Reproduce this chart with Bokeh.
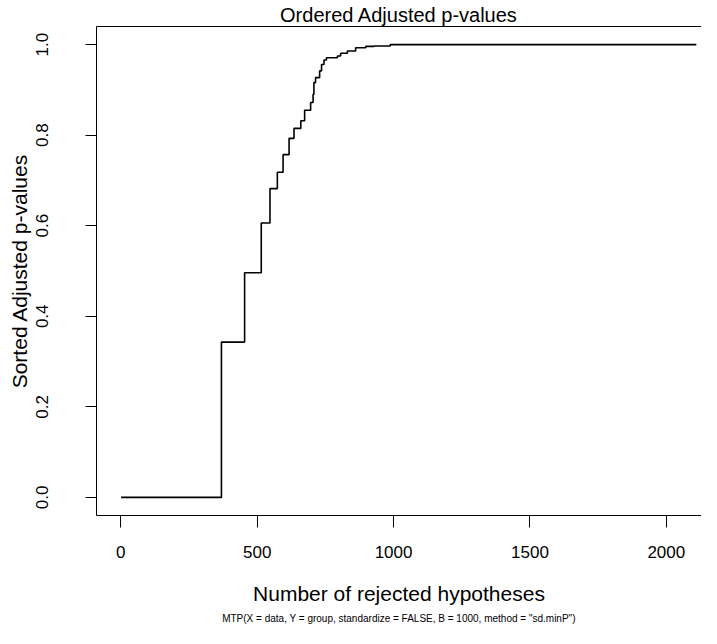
from bokeh.plotting import figure
from bokeh.embed import file_html
from bokeh.resources import INLINE
from bokeh.models import FixedTicker, LinearAxis, Title, Range1d

# Step function of sorted adjusted p-values: rank where each level starts, and the level
step_rank = [1, 369, 454, 515, 547, 574, 595, 617, 635, 660, 674, 696, 705, 708, 714,
             729, 736, 745, 754, 794, 806, 831, 861, 898, 928, 988, 2110]
step_pval = [0.0, 0.343, 0.496, 0.606, 0.682, 0.718, 0.757, 0.793, 0.815, 0.832, 0.855,
             0.872, 0.89, 0.916, 0.927, 0.942, 0.956, 0.966, 0.971, 0.975, 0.981, 0.986,
             0.993, 0.996, 0.997, 1.0, 1.0]

x_ticks = [0, 500, 1000, 1500, 2000]
y_ticks = [0.0, 0.2, 0.4, 0.6, 0.8, 1.0]
y_tick_labels = ["0.0", "0.2", "0.4", "0.6", "0.8", "1.0"]

title_text = "Ordered Adjusted p-values"
x_label = "Number of rejected hypotheses"
y_label = "Sorted Adjusted p-values"
sub_text = 'MTP(X = data, Y = group, standardize = FALSE, B = 1000, method = "sd.minP")'

FONT = "Liberation Sans"

p = figure(width=701, height=628, output_backend="svg", toolbar_location=None,
           x_range=Range1d(-89, 2129), y_range=Range1d(-0.04, 1.04),
           min_border_left=96, min_border_right=0, min_border_top=25, min_border_bottom=113)
p.outline_line_color = None
p.background_fill_color = "white"
p.border_fill_color = "white"
p.grid.visible = False

p.title.text = title_text
p.title.align = "center"
p.title.text_font = FONT
p.title.text_font_size = "20px"
p.title.text_font_style = "normal"
p.title.text_color = "black"
p.title.standoff = 2

p.step(step_rank, step_pval, mode="after", line_color="black", line_width=1.6)

xa = p.xaxis[0]
xa.ticker = FixedTicker(ticks=x_ticks)
xa.axis_label = x_label
ya = p.yaxis[0]
ya.ticker = FixedTicker(ticks=y_ticks)
ya.major_label_overrides = {t: l for t, l in zip(y_ticks, y_tick_labels)}
ya.axis_label = y_label
ya.major_label_orientation = "vertical"

for ax in (xa, ya):
    ax.axis_line_color = "black"
    ax.axis_line_width = 1
    ax.major_tick_line_color = "black"
    ax.minor_tick_line_color = None
    ax.major_tick_in = 0
    ax.major_label_text_font = FONT
    ax.major_label_text_font_size = "17px"
    ax.major_label_text_color = "black"
    ax.axis_label_text_font = FONT
    ax.axis_label_text_font_size = "21px"
    ax.axis_label_text_font_style = "normal"
    ax.axis_label_text_color = "black"

xa.major_tick_out = 12
xa.major_label_standoff = 18
xa.axis_label_standoff = 21
ya.major_tick_out = 11
ya.major_label_standoff = 37
ya.axis_label_standoff = 3

top = LinearAxis(ticker=FixedTicker(ticks=[]), axis_line_color="black",
                 major_tick_out=0, major_tick_in=0, major_label_standoff=0,
                 minor_tick_line_color=None, major_tick_line_color=None)
p.add_layout(top, "above")

p.add_layout(Title(text=sub_text, align="center", text_font=FONT, text_color="black",
                   text_font_size="10px", text_font_style="normal", standoff=7), "below")

open("out.html", "w").write(file_html(p, INLINE))
